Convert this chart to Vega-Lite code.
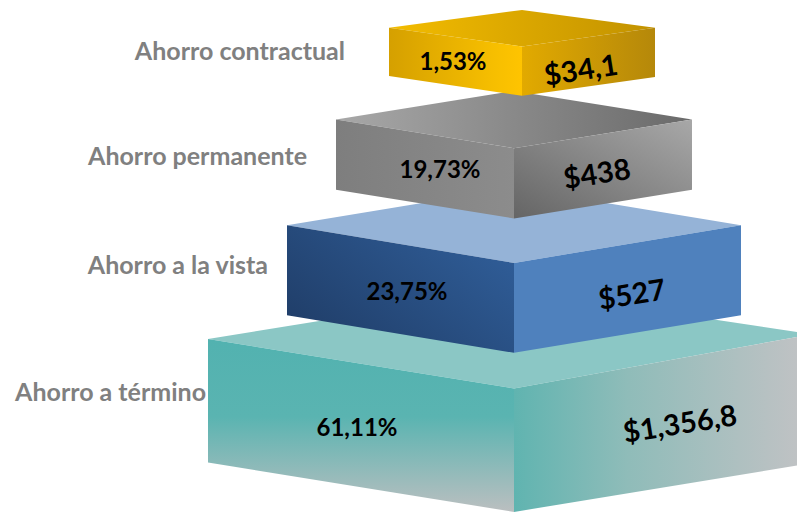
{
  "$schema": "https://vega.github.io/schema/vega-lite/v6.json",
  "width": 797,
  "height": 512,
  "autosize": {"type": "fit", "contains": "padding"},
  "padding": 0,
  "background": "white",
  "config": {"view": {"stroke": null}},
  "datasets": {
    "faces": [
      {"k": "teal-top", "x": 208, "y": 343, "y2": 343},
      {"k": "teal-top", "x": 514, "y": 293, "y2": 393},
      {"k": "teal-top", "x": 797, "y": 336, "y2": 341},
      {"k": "teal-left", "x": 208, "y": 343, "y2": 468},
      {"k": "teal-left", "x": 514, "y": 393, "y2": 518},
      {"k": "teal-right", "x": 514, "y": 393, "y2": 518},
      {"k": "teal-right", "x": 797, "y": 341, "y2": 471},
      {"k": "blue-top", "x": 287, "y": 228, "y2": 228},
      {"k": "blue-top", "x": 514, "y": 190, "y2": 266},
      {"k": "blue-top", "x": 741, "y": 228, "y2": 228},
      {"k": "blue-left", "x": 287, "y": 228, "y2": 319},
      {"k": "blue-left", "x": 514, "y": 266, "y2": 357},
      {"k": "blue-right", "x": 514, "y": 266, "y2": 357},
      {"k": "blue-right", "x": 741, "y": 228, "y2": 319},
      {"k": "gray-top", "x": 336, "y": 121, "y2": 121},
      {"k": "gray-top", "x": 514, "y": 92, "y2": 150},
      {"k": "gray-top", "x": 692, "y": 121, "y2": 121},
      {"k": "gray-left", "x": 336, "y": 121, "y2": 192},
      {"k": "gray-left", "x": 514, "y": 150, "y2": 221},
      {"k": "gray-right", "x": 514, "y": 150, "y2": 221},
      {"k": "gray-right", "x": 692, "y": 121, "y2": 192},
      {"k": "gold-top", "x": 389, "y": 28, "y2": 28},
      {"k": "gold-top", "x": 522, "y": 10, "y2": 47},
      {"k": "gold-top", "x": 655, "y": 28, "y2": 28},
      {"k": "gold-left", "x": 389, "y": 28, "y2": 77},
      {"k": "gold-left", "x": 522, "y": 47, "y2": 97},
      {"k": "gold-right", "x": 522, "y": 47, "y2": 97},
      {"k": "gold-right", "x": 655, "y": 28, "y2": 78}
    ],
    "labels": [
      {"kind": "cat", "text": "Ahorro contractual", "x": 345, "y": 51},
      {"kind": "cat", "text": "Ahorro permanente", "x": 307, "y": 157},
      {"kind": "cat", "text": "Ahorro a la vista", "x": 268, "y": 267},
      {"kind": "cat", "text": "Ahorro a término", "x": 206, "y": 396},
      {"kind": "pct", "text": "1,53%", "x": 453, "y": 62},
      {"kind": "pct", "text": "19,73%", "x": 440, "y": 171},
      {"kind": "pct", "text": "23,75%", "x": 407, "y": 294},
      {"kind": "pct", "text": "61,11%", "x": 357, "y": 432},
      {"kind": "val", "text": "$34,1", "x": 581, "y": 71},
      {"kind": "val", "text": "$438", "x": 597, "y": 176},
      {"kind": "val", "text": "$527", "x": 632, "y": 298},
      {"kind": "val", "text": "$1,356,8", "x": 680, "y": 429}
    ]
  },
  "data": {"name": "faces"},
  "encoding": {
    "x": {"field": "x", "type": "quantitative", "scale": {"domain": [0, 797], "nice": false, "zero": false}, "axis": null},
    "y": {"field": "y", "type": "quantitative", "scale": {"domain": [0, 512], "nice": false, "zero": false, "reverse": true}, "axis": null}
  },
  "layer": [
    {"transform": [{"filter": "datum.k == 'teal-top'"}], "mark": {"type": "area", "orient": "vertical", "fill": "#8BC7C5"}, "encoding": {"y2": {"field": "y2"}}},
    {"transform": [{"filter": "datum.k == 'teal-left'"}], "mark": {"type": "area", "orient": "vertical", "fill": {"gradient": "linear", "x1": 0, "y1": 0, "x2": 0, "y2": 1, "stops": [{"offset": 0, "color": "#52B2B0"}, {"offset": 0.45, "color": "#5AB4B1"}, {"offset": 1, "color": "#BBBFC0"}]}}, "encoding": {"y2": {"field": "y2"}}},
    {"transform": [{"filter": "datum.k == 'teal-right'"}], "mark": {"type": "area", "orient": "vertical", "fill": {"gradient": "linear", "x1": 0, "y1": 0, "x2": 1, "y2": 0, "stops": [{"offset": 0, "color": "#60B4B0"}, {"offset": 0.4, "color": "#8FBCB9"}, {"offset": 1, "color": "#BFC2C4"}]}}, "encoding": {"y2": {"field": "y2"}}},
    {"transform": [{"filter": "datum.k == 'blue-top'"}], "mark": {"type": "area", "orient": "vertical", "fill": "#95B3D7"}, "encoding": {"y2": {"field": "y2"}}},
    {"transform": [{"filter": "datum.k == 'blue-left'"}], "mark": {"type": "area", "orient": "vertical", "fill": {"gradient": "linear", "x1": 0, "y1": 1, "x2": 1, "y2": 0.3, "stops": [{"offset": 0, "color": "#1E3A63"}, {"offset": 1, "color": "#2F5C96"}]}}, "encoding": {"y2": {"field": "y2"}}},
    {"transform": [{"filter": "datum.k == 'blue-right'"}], "mark": {"type": "area", "orient": "vertical", "fill": "#4F81BD"}, "encoding": {"y2": {"field": "y2"}}},
    {"transform": [{"filter": "datum.k == 'gray-top'"}], "mark": {"type": "area", "orient": "vertical", "fill": {"gradient": "linear", "x1": 0, "y1": 0, "x2": 1, "y2": 0, "stops": [{"offset": 0, "color": "#A8A8A8"}, {"offset": 1, "color": "#6A6A6A"}]}}, "encoding": {"y2": {"field": "y2"}}},
    {"transform": [{"filter": "datum.k == 'gray-left'"}], "mark": {"type": "area", "orient": "vertical", "fill": {"gradient": "linear", "x1": 0, "y1": 0, "x2": 1, "y2": 0, "stops": [{"offset": 0, "color": "#7E7E7E"}, {"offset": 1, "color": "#8C8C8C"}]}}, "encoding": {"y2": {"field": "y2"}}},
    {"transform": [{"filter": "datum.k == 'gray-right'"}], "mark": {"type": "area", "orient": "vertical", "fill": {"gradient": "linear", "x1": 0, "y1": 1, "x2": 1, "y2": 0, "stops": [{"offset": 0, "color": "#656565"}, {"offset": 1, "color": "#A8A8A8"}]}}, "encoding": {"y2": {"field": "y2"}}},
    {"transform": [{"filter": "datum.k == 'gold-top'"}], "mark": {"type": "area", "orient": "vertical", "fill": {"gradient": "linear", "x1": 0, "y1": 0, "x2": 1, "y2": 0, "stops": [{"offset": 0, "color": "#F3BC00"}, {"offset": 1, "color": "#C29200"}]}}, "encoding": {"y2": {"field": "y2"}}},
    {"transform": [{"filter": "datum.k == 'gold-left'"}], "mark": {"type": "area", "orient": "vertical", "fill": {"gradient": "linear", "x1": 0, "y1": 0, "x2": 1, "y2": 0, "stops": [{"offset": 0, "color": "#D5A000"}, {"offset": 0.8, "color": "#F7BF00"}, {"offset": 1, "color": "#FFC400"}]}}, "encoding": {"y2": {"field": "y2"}}},
    {"transform": [{"filter": "datum.k == 'gold-right'"}], "mark": {"type": "area", "orient": "vertical", "fill": {"gradient": "linear", "x1": 0, "y1": 0, "x2": 1, "y2": 0, "stops": [{"offset": 0, "color": "#E2AA00"}, {"offset": 1, "color": "#B5880A"}]}}, "encoding": {"y2": {"field": "y2"}}},
    {"data": {"name": "labels"}, "transform": [{"filter": "datum.kind == 'cat'"}], "mark": {"type": "text", "align": "right", "baseline": "middle", "dy": 2, "font": "Lato", "fontWeight": "bold", "fontSize": 25, "fill": "#808080"}, "encoding": {"text": {"field": "text"}}},
    {"data": {"name": "labels"}, "transform": [{"filter": "datum.kind == 'pct'"}], "mark": {"type": "text", "align": "center", "baseline": "middle", "dy": 2, "font": "Lato", "fontWeight": "bold", "fontSize": 24, "fill": "#000000"}, "encoding": {"text": {"field": "text"}}},
    {"data": {"name": "labels"}, "transform": [{"filter": "datum.kind == 'val'"}], "mark": {"type": "text", "align": "center", "baseline": "middle", "dy": 1, "font": "Lato", "fontWeight": "bold", "fontSize": 29, "angle": -9, "fill": "#000000"}, "encoding": {"text": {"field": "text"}}}
  ]
}
